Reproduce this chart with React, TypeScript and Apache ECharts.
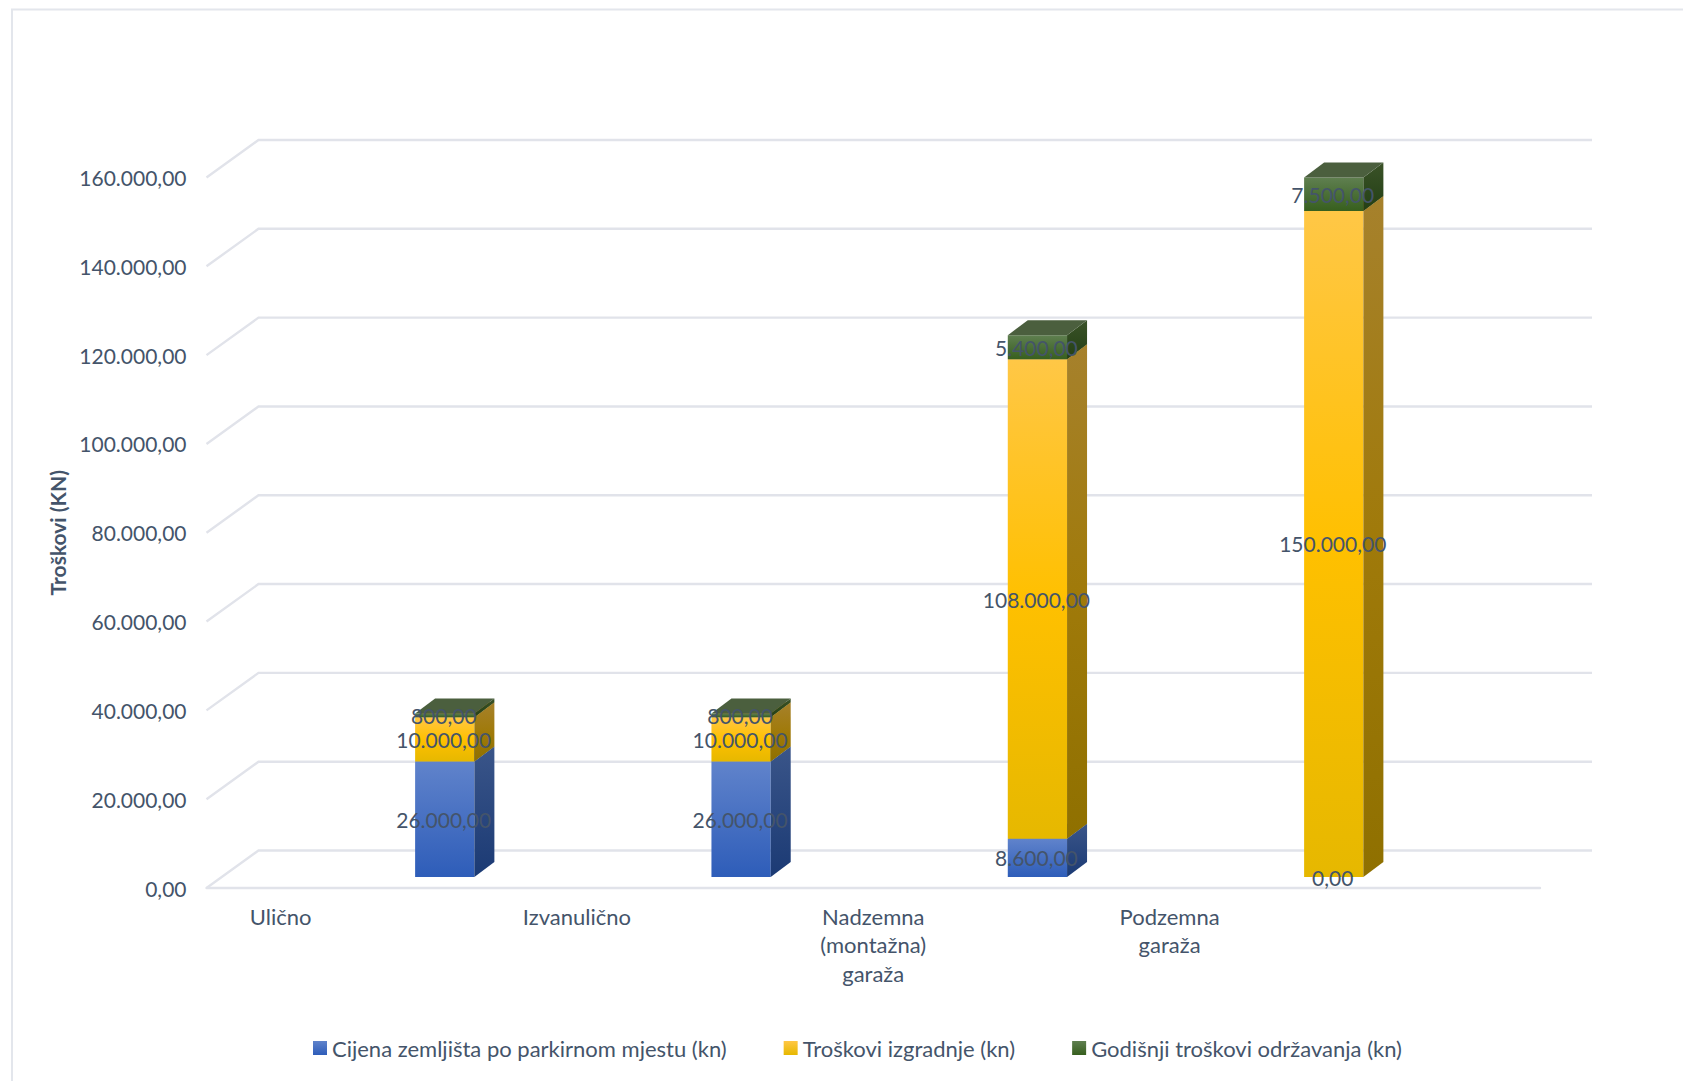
import React, { useEffect, useRef } from "react";
import * as echarts from "echarts";

const categories = ["Ulično", "", "Izvanulično", "", "Nadzemna\n(montažna)\ngaraža", "", "Podzemna\ngaraža", "", ""];
const landCost = [null, 26000, null, 26000, null, 8600, null, 0, null];
const buildCost = [null, 10000, null, 10000, null, 108000, null, 150000, null];
const upkeepCost = [null, 800, null, 800, null, 5400, null, 7500, null];
const seriesNames = ["Cijena zemljišta po parkirnom mjestu (kn)", "Troškovi izgradnje (kn)", "Godišnji troškovi održavanja (kn)"];
const yTicks = [0, 20000, 40000, 60000, 80000, 100000, 120000, 140000, 160000];

const INK = "#44546A";
const FONT = "Lato";
const GRID_LINE = "#E1E3EA";
const WALL_DX = 52;
const WALL_DY = 37.5;
const BAR_DX = 16;
const BAR_DY = 11;
const DEPTH_X = 20;
const DEPTH_Y = 15;

const vGrad = (a: string, b: string, c?: string) => ({
  type: "linear", x: 0, y: 0, x2: 0, y2: 1,
  colorStops: c
    ? [{ offset: 0, color: a }, { offset: 0.5, color: b }, { offset: 1, color: c }]
    : [{ offset: 0, color: a }, { offset: 1, color: b }],
});

const palettes = [
  { front: vGrad("#6083CB", "#2E5DB9"), side: vGrad("#3A5589", "#1B3A74"), top: "#4A6AA8", legend: vGrad("#6083CB", "#2E5DB9") },
  { front: vGrad("#FFC746", "#FFC000", "#E6B800"), side: vGrad("#A6812C", "#A07A0A", "#8F7000"), top: "#A6812C", legend: vGrad("#FFC746", "#E6B800") },
  { front: vGrad("#5F7F50", "#375F1E"), side: vGrad("#3A5228", "#233F14"), top: "#4B5F3E", legend: vGrad("#5F7F50", "#375F1E") },
];

const fmt = (v: number) =>
  v.toLocaleString("de-DE", { minimumFractionDigits: 2, maximumFractionDigits: 2 });

const stacks = [landCost, buildCost, upkeepCost];
const seriesRows = (s: number) =>
  categories.map((_, i) => {
    const v = stacks[s][i];
    if (v === null) return [i, null, null];
    let start = 0;
    for (let k = 0; k < s; k++) start += (stacks[k][i] as number) || 0;
    return [i, start, start + v];
  });

const renderSegment = (s: number) => (_: any, api: any) => {
  const start = api.value(1);
  const end = api.value(2);
  if (start === null || end === null || isNaN(start) || isNaN(end)) return { type: "group", children: [] };
  const p0 = api.coord([api.value(0), start]);
  const p1 = api.coord([api.value(0), end]);
  const bw = api.size([1, 0])[0] * 0.4;
  const cx = p0[0] + BAR_DX;
  const x0 = cx - bw / 2;
  const x1 = cx + bw / 2;
  const yb = p0[1] - BAR_DY;
  const yt = p1[1] - BAR_DY;
  const pal = palettes[s];
  const text = {
    type: "text", z2: 100, silent: true,
    style: { x: cx - 1, y: (yb + yt) / 2, text: fmt(end - start), fill: INK, font: `21px ${FONT}`, align: "center", verticalAlign: "middle" },
  };
  if (end === start) return { type: "group", children: [text] };
  return {
    type: "group",
    children: [
      { type: "rect", z2: s * 3 + 1, shape: { x: x0, y: yt, width: bw, height: yb - yt }, style: { fill: pal.front } },
      { type: "polygon", z2: s * 3 + 1, shape: { points: [[x1, yb], [x1 + DEPTH_X, yb - DEPTH_Y], [x1 + DEPTH_X, yt - DEPTH_Y], [x1, yt]] }, style: { fill: pal.side } },
      { type: "polygon", z2: s * 3 + 1, shape: { points: [[x0, yt], [x0 + DEPTH_X, yt - DEPTH_Y], [x1 + DEPTH_X, yt - DEPTH_Y], [x1, yt]] }, style: { fill: pal.top } },
      text,
    ],
  };
};

const renderWall = (params: any, api: any) => {
  const v = api.value(0);
  const cs = params.coordSys;
  const y = api.coord([0, v])[1];
  const x = cs.x;
  return {
    type: "polyline",
    shape: { points: [[x, y], [x + WALL_DX, y - WALL_DY], [x + cs.width + WALL_DX, y - WALL_DY]] },
    style: { stroke: GRID_LINE, lineWidth: 2.4, fill: "none" },
    silent: true,
  };
};

export default function App() {
  const ref = useRef<HTMLDivElement>(null);
  useEffect(() => {
    const chart = echarts.init(ref.current!, undefined, { renderer: "svg" });
    chart.setOption({
      animation: false,
      backgroundColor: "#FFFFFF",
      textStyle: { fontFamily: FONT },
      grid: { left: 206.5, right: 143, top: 177.5, bottom: 193, containLabel: false },
      graphic: [
        { type: "rect", z: -10, silent: true, shape: { x: 12, y: 9.5, width: 1720, height: 1120 }, style: { fill: "#FFFFFF", stroke: "#E3E6EC", lineWidth: 2 } },
      ],
      legend: {
        left: 308, top: 1032, icon: "rect", itemWidth: 14, itemHeight: 14, itemGap: 57,
        data: seriesNames,
        textStyle: { color: INK, fontSize: 22, fontFamily: FONT },
      },
      xAxis: {
        type: "category", data: categories,
        axisTick: { show: false },
        axisLine: { show: true, lineStyle: { color: GRID_LINE, width: 2.4 } },
        axisLabel: { interval: 0, color: INK, fontSize: 22, fontFamily: FONT, lineHeight: 28.5, margin: 14, verticalAlign: "top" },
      },
      yAxis: {
        type: "value", min: 0, max: 160000, interval: 20000,
        name: "Troškovi (KN)", nameLocation: "middle", nameGap: 137, nameRotate: 90,
        nameTextStyle: { color: INK, fontSize: 21, fontWeight: "bold", fontFamily: FONT },
        axisLine: { show: false }, axisTick: { show: false }, splitLine: { show: false },
        axisLabel: { color: INK, fontSize: 21, fontFamily: FONT, margin: 20, formatter: (v: number) => fmt(v) },
      },
      series: [
        { type: "custom", name: "wall", silent: true, z: 1, data: yTicks.map((v) => [v]), encode: { y: 0 }, renderItem: renderWall },
        ...seriesNames.map((name, s) => ({
          type: "custom", name, z: 2,
          itemStyle: { color: palettes[s].legend },
          data: seriesRows(s),
          encode: { x: 0, y: [1, 2] },
          renderItem: renderSegment(s),
        })),
      ],
    });
    return () => chart.dispose();
  }, []);
  return <div ref={ref} style={{ position: "fixed", left: 0, top: 0, width: 1683, height: 1081 }} />;
}
